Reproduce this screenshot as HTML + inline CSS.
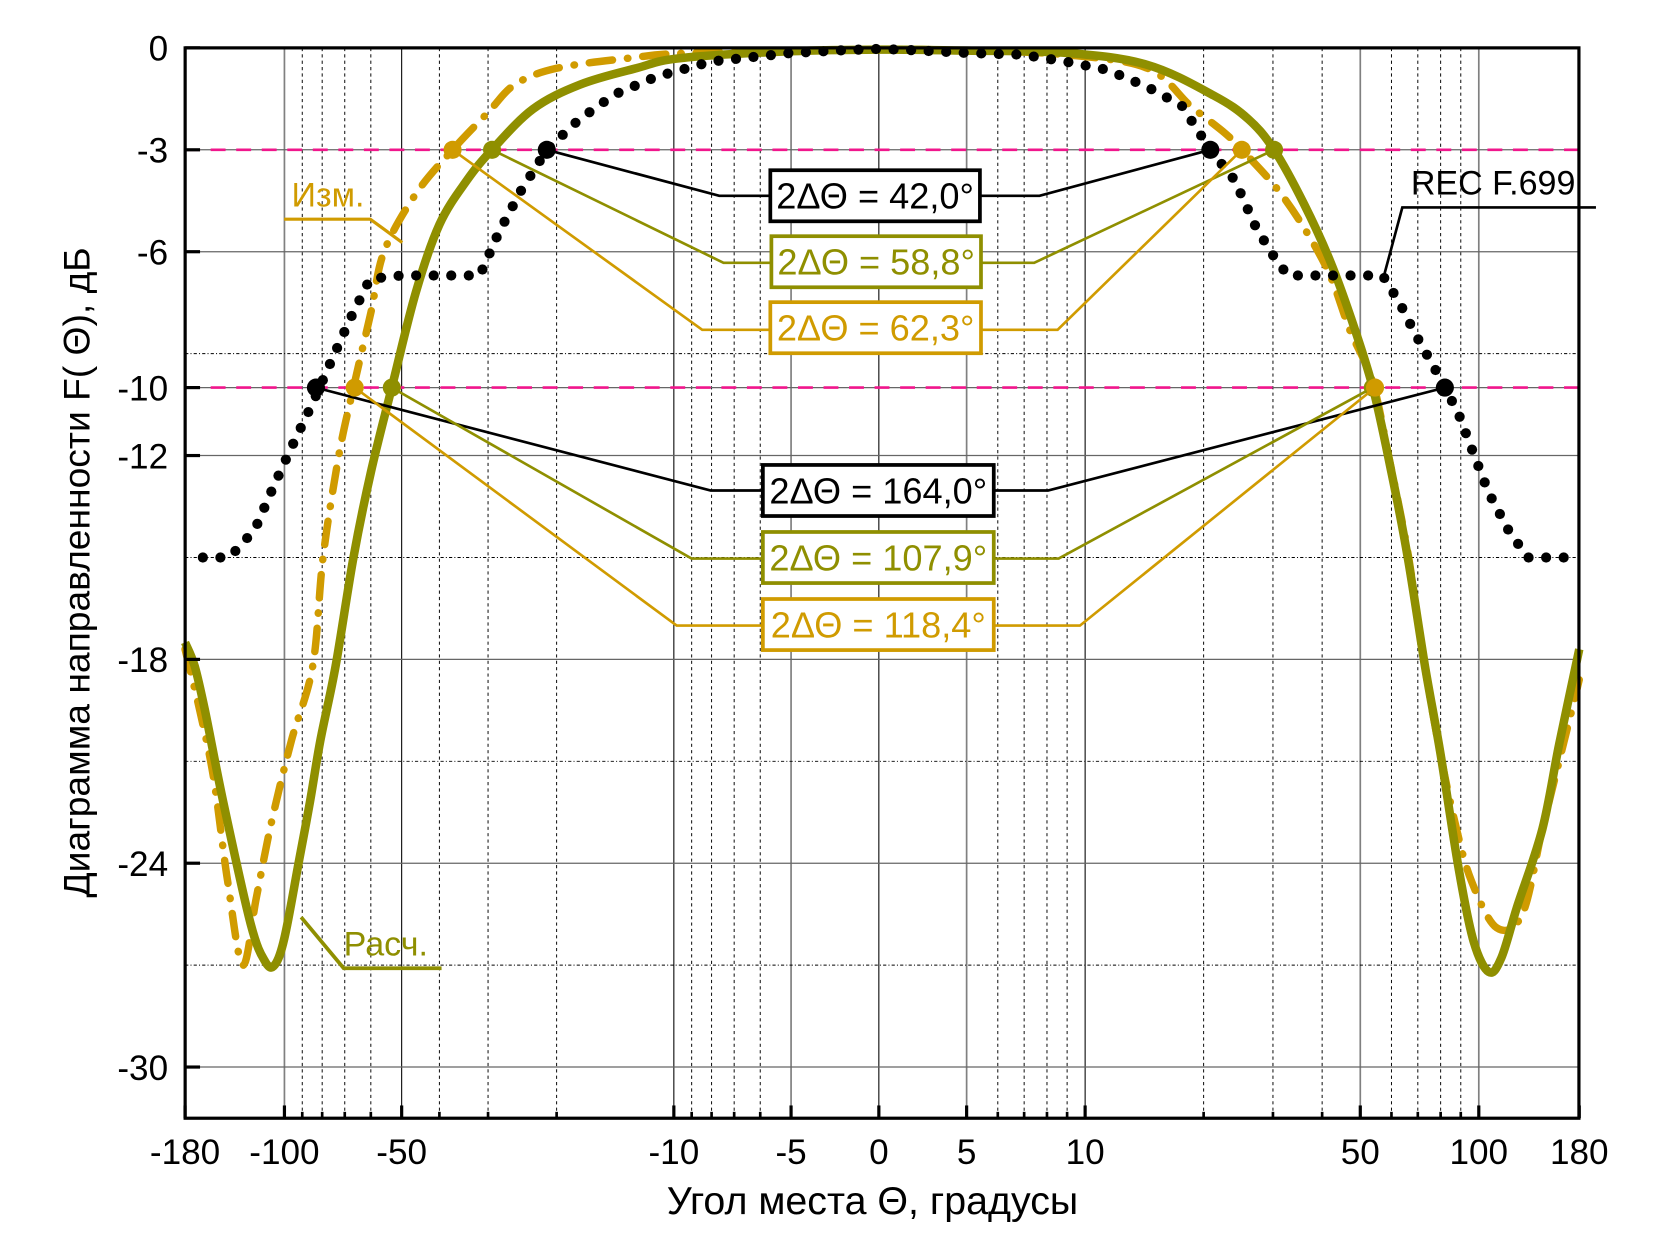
<!DOCTYPE html>
<html><head><meta charset="utf-8"><style>
html,body{margin:0;padding:0;background:#fff}
svg{display:block}
text{font-family:"Liberation Sans",Arial,sans-serif}
</style></head><body>
<svg id="chart" width="1668" height="1236" viewBox="0 0 1567.7 1161.7" xmlns="http://www.w3.org/2000/svg">
<g id="grid"></g>
<g id="series"></g>
<g id="annot"></g>
<g id="axes"></g>
</svg>
<script>
// ---- data ----
const recTheta = [-162,-139,-128,-118,-106,-94.5,-84.2,-75.7,-67.8,-60.3,-50,-40,-31.5,-28.2,-24.8,-21.2,-17.6,-14.2,-11.1,-8,-5,-1.6,0,1.6,5,6.9,8.9,11.4,14.4,17.6,20.8,24,27.2,30,32.7,45,57,62.9,68.8,80.9,89,97.4,106,119,133,150,174];
const recDb = [-15,-15,-14.6,-14.07,-12.84,-11.6,-10.4,-9.2,-7.98,-6.8,-6.7,-6.7,-6.7,-5.45,-4.24,-3.0,-2.13,-1.37,-0.85,-0.4,-0.15,-0.06,-0.03,-0.06,-0.15,-0.2,-0.4,-0.65,-1.15,-1.7,-3.0,-3.9,-5.3,-6.1,-6.7,-6.7,-6.7,-7.5,-8.4,-9.85,-10.8,-12,-13.1,-14.2,-15,-15,-15];
const measTheta = [-180,-165,-152,-140,-128,-118,-108,-96,-84.6,-79.6,-72.5,-66.5,-60,-55.5,-46,-37,-30,-25.6,-20,-13,-9,0,5,8.9,14.4,18.5,22.6,25,30.5,36,41.9,47,53.6,59,65.9,72,79,87,95.6,111,129,145,160,180];
const measDb = [-17.7,-19.5,-21.5,-24.5,-27,-25,-22.8,-20.4,-18.2,-15,-12,-10,-7.8,-6,-4.3,-3,-1.9,-1.08,-0.6,-0.3,-0.15,-0.05,-0.08,-0.2,-0.6,-1.7,-2.5,-3.0,-4.1,-5.3,-6.7,-8.3,-9.8,-12,-14.8,-17.8,-20.5,-22.8,-24.5,-25.9,-25.5,-23,-21,-18.6];
const calcTheta = [-180,-170,-160,-143,-122,-112,-106,-100,-92,-86,-80.9,-73.9,-66.5,-60,-53,-46,-40,-34,-29.3,-23,-17.4,-12.5,-9.6,-5,0,5,9,14.4,21.2,26,30.2,36,42,47.5,53.8,60,66,73,80,89,97,106,114,125,145,160,180];
const calcDb = [-17.5,-18.2,-19.5,-22.3,-25.8,-26.9,-27,-26.2,-24,-22.2,-20.4,-18.2,-15,-12.5,-10,-7.2,-5.2,-3.9,-3,-1.8,-1.08,-0.6,-0.3,-0.1,-0.05,-0.08,-0.15,-0.5,-1.4,-2.1,-3,-4.6,-6.3,-8,-10,-12.5,-15,-18.2,-20.8,-24.2,-26.3,-27.2,-26.8,-25.3,-23,-20.5,-17.7];
const xTickVals = [-180,-100,-50,-10,-5,0,5,10,50,100,180];
const xTickLabels = ["-180","-100","-50","-10","-5","0","5","10","50","100","180"];
const xMinor = [-90,-80,-70,-60,-40,-30,-20,-9,-8,-7,-6,6,7,8,9,20,30,40,60,70,80,90];
const yTickVals = [0,-3,-6,-10,-12,-18,-24,-30];
const yDotted = [-9,-15,-21,-27];
// ---- scales ----
function X(t){
  if (t>=-5 && t<=5) return 826 + t/5*82.5;
  if (t<0) return 743.5 - 366*Math.log10(-t/5);
  return 908.5 + 370*Math.log10(t/5);
}
function Y(d){ return 45 - d*31.93; }
const NS="http://www.w3.org/2000/svg";
function mk(tag, parent, attrs){ const e=document.createElementNS(NS,tag); for(const k in attrs) e.setAttribute(k,attrs[k]); parent.appendChild(e); return e; }
const L=174, R=1484, T=45, B=1051;
const grid=document.getElementById('grid'), ser=document.getElementById('series'), ann=document.getElementById('annot'), axes=document.getElementById('axes');
// grid
const gray=[-100,-5,5,50,100];
xTickVals.forEach(v=>{ if(v===-180||v===180) return;
  const g=mk('line',grid,{x1:X(v),x2:X(v),y1:T,y2:B,stroke:gray.includes(v)?'#808080':'#000','stroke-width':gray.includes(v)?1.6:1});
   
});
xMinor.forEach(v=>{ const g=mk('line',grid,{x1:X(v),x2:X(v),y1:T,y2:B,stroke:'#000','stroke-width':0.9,'stroke-dasharray':'3,3'});
   });
yTickVals.forEach(v=>{ if(v===0) return; const g=mk('line',grid,{x1:L,x2:R,y1:Y(v),y2:Y(v),stroke:'#666','stroke-width':1.2});
   });
yDotted.forEach(v=>{ const g=mk('line',grid,{x1:L,x2:R,y1:Y(v),y2:Y(v),stroke:'#000','stroke-width':0.9,'stroke-dasharray':'3,2,1,2'});
   });
[-3,-10].forEach(v=>{ const g=mk('line',grid,{x1:L,x2:R,y1:Y(v),y2:Y(v),stroke:'#f0168c','stroke-width':2.5,'stroke-dasharray':'14,10'});
   });
// series
function pts(th,db){ return th.map((t,i)=>[X(t),Y(db[i])]); }
function smoothD(p){
  let d='M'+p[0][0].toFixed(1)+','+p[0][1].toFixed(1);
  for(let i=0;i<p.length-1;i++){
    const p0=p[i-1]||p[i], p1=p[i], p2=p[i+1], p3=p[i+2]||p[i+1];
    const c1=[p1[0]+(p2[0]-p0[0])/6, p1[1]+(p2[1]-p0[1])/6];
    const c2=[p2[0]-(p3[0]-p1[0])/6, p2[1]-(p3[1]-p1[1])/6];
    d+='C'+c1.map(v=>v.toFixed(1)).join(',')+' '+c2.map(v=>v.toFixed(1)).join(',')+' '+p2.map(v=>v.toFixed(1)).join(',');
  }
  return d;
}
const meas=mk('path',ser,{d:smoothD(pts(measTheta,measDb)),fill:'none',stroke:'#d09b00','stroke-width':7,'stroke-linecap':'round','stroke-linejoin':'round','stroke-dasharray':'22,14,0.5,14'});
 
const calc=mk('path',ser,{d:smoothD(pts(calcTheta,calcDb)),fill:'none',stroke:'#8f8f00','stroke-width':8,'stroke-linejoin':'round'});
 
// REC dots resampled along polyline
(function(){ const p=pts(recTheta,recDb); let acc=0, step=16.5;
  const dot=(x,y)=>{ const c=mk('circle',ser,{cx:x,cy:y,r:4.8,fill:'#000'});   };
  dot(p[0][0],p[0][1]);
  for(let i=1;i<p.length;i++){ const dx=p[i][0]-p[i-1][0], dy=p[i][1]-p[i-1][1], len=Math.hypot(dx,dy); let s=step-acc;
    while(s<=len){ dot(p[i-1][0]+dx*s/len, p[i-1][1]+dy*s/len); s+=step; } acc=(acc+len)%step; }
})();
// annotations
function poly(points,color,w,name){ const e=mk('polyline',ann,{points:points.map(q=>q.join(',')).join(' '),fill:'none',stroke:color,'stroke-width':w});   }
function box(x1,y1,x2,y2,color,label,name){ const r=mk('rect',ann,{x:x1,y:y1,width:x2-x1,height:y2-y1,fill:'#fff',stroke:color,'stroke-width':3.5});  
  const t=mk('text',ann,{x:(x1+x2)/2,y:(y1+y2)/2+12,'text-anchor':'middle','font-size':34,fill:color}); t.textContent=label;   }
const K='#000', G='#8f8f00', M='#d09b00';
const bw3=[[-3,K,-21.2,20.8,676,977,184,724,921,160,208,'2ΔΘ = 42,0°','beamwidth-3db-rec'],
 [-3,G,-29.3,30.2,680,972,247,725,922,222,270,'2ΔΘ = 58,8°','beamwidth-3db-calc'],
 [-3,M,-37,25,660,994,310,724,922,284,332,'2ΔΘ = 62,3°','beamwidth-3db-meas'],
 [-10,K,-83,82,668,985,461,717,934,437,485,'2ΔΘ = 164,0°','beamwidth-10db-rec'],
 [-10,G,-53,53.8,650,995,525,717,934,500,548,'2ΔΘ = 107,9°','beamwidth-10db-calc'],
 [-10,M,-66,54.5,636,1015,588,717,934,563,611,'2ΔΘ = 118,4°','beamwidth-10db-meas']];
bw3.forEach(b=>{ const [lv,c,a,z,lx,rx,ly,bx1,bx2,by1,by2,lab,nm]=b;
  poly([[X(a),Y(lv)],[lx,ly],[bx1,ly]],c,2.5,nm+'-leader-left');
  poly([[bx2,ly],[rx,ly],[X(z),Y(lv)]],c,2.5,nm+'-leader-right');
  [a,z].forEach(t=>{ const m=mk('circle',ann,{cx:X(t),cy:Y(lv),r:8.5,fill:c});   });
  box(bx1,by1,bx2,by2,c,lab,nm);
});
poly([[1500,195],[1318,195],[1300,262]],K,2.5,'rec-f699-leader');
poly([[267,206],[348,206],[378,228]],M,3,'measured-leader');
poly([[415,910],[323,910],[283,862]],G,3.5,'calculated-leader');
function txt(x,y,s,c,size,name,anchor){ const t=mk('text',ann,{x:x,y:y,'font-size':size,fill:c,'text-anchor':anchor||'start'}); t.textContent=s;   return t; }
txt(1326,183,'REC F.699',K,32,'rec-f699-label');
txt(274,194,'Изм.',M,32,'measured-label');
txt(323,898,'Расч.',G,32,'calculated-label');
// axes frame & ticks
const fr=mk('rect',axes,{x:L,y:T,width:R-L,height:B-T,fill:'none',stroke:'#000','stroke-width':3});  
xTickVals.forEach((v,i)=>{ const tk=mk('line',axes,{x1:X(v),x2:X(v),y1:B,y2:B-12,stroke:'#000','stroke-width':3});  
  txt(X(v),B+43,xTickLabels[i],'#000',33,'x-tick-label','middle'); });
xMinor.forEach(v=>{ const tk=mk('line',axes,{x1:X(v),x2:X(v),y1:B,y2:B-6,stroke:'#000','stroke-width':2.5});   });
yTickVals.forEach(v=>{ const tk=mk('line',axes,{x1:L,x2:L+14,y1:Y(v),y2:Y(v),stroke:'#000','stroke-width':3});  
  txt(158,Y(v)+12,String(v),'#000',33,'y-tick-label','end'); });
txt(820,1141,'Угол места  Θ, градусы','#000',37,'x-axis-title','middle');
const yt=txt(0,0,'Диаграмма направленности F( Θ), дБ','#000',35,'y-axis-title','middle');
yt.setAttribute('transform','translate(84,538) rotate(-90)');
</script>
</body></html>
